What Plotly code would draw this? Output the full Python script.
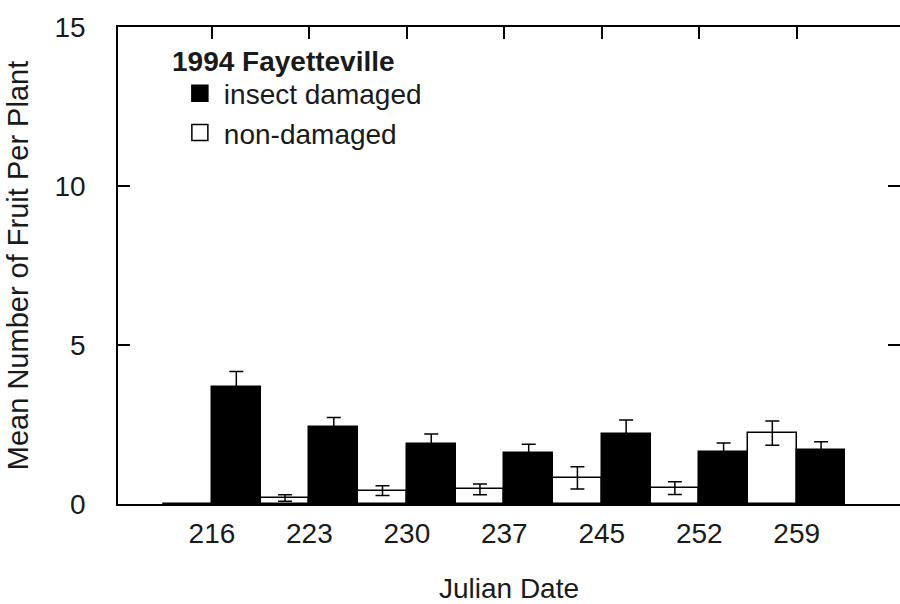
import plotly.graph_objects as go

dates = ["216", "223", "230", "237", "245", "252", "259"]
insect = [3.67, 2.43, 1.89, 1.60, 2.20, 1.64, 1.70]
insect_se = [0.50, 0.29, 0.31, 0.28, 0.44, 0.28, 0.26]
nondam = [0.0, 0.19, 0.42, 0.46, 0.82, 0.50, 2.23]
nondam_se = [0.0, 0.10, 0.15, 0.17, 0.35, 0.20, 0.38]

FONT = "Liberation Sans"
FS = 28
INK = "#1a1a1a"

fig = go.Figure()
fig.add_trace(go.Bar(
    x=dates, y=nondam, name="non-damaged", showlegend=False,
    marker=dict(color="white", line=dict(color="black", width=1.5)),
    error_y=dict(type="data", array=nondam_se, color="black", thickness=1.5, width=7),
))
fig.add_trace(go.Bar(
    x=dates, y=insect, name="insect damaged", showlegend=False,
    marker=dict(color="black", line=dict(color="black", width=1.5)),
    error_y=dict(type="data", array=insect_se, color="black", thickness=1.5, width=7),
))
# legend entries (square swatches)
fig.add_trace(go.Scatter(
    x=[None], y=[None], mode="markers", name="insect damaged",
    marker=dict(symbol="square", size=18, color="black", line=dict(color="black", width=1.5)),
))
fig.add_trace(go.Scatter(
    x=[None], y=[None], mode="markers", name="non-damaged",
    marker=dict(symbol="square", size=17, color="white", line=dict(color="black", width=1.5)),
))

fig.update_layout(
    width=900, height=604, autosize=False,
    margin=dict(l=118, r=0, t=27, b=100, autoexpand=False),
    plot_bgcolor="white", paper_bgcolor="white",
    barmode="group", bargap=0, bargroupgap=0,
    font=dict(family=FONT, size=FS, color=INK),
    legend=dict(
        x=0.074, y=0.913, xanchor="left", yanchor="top",
        bgcolor="rgba(0,0,0,0)", font=dict(size=FS, family=FONT, color=INK),
        itemsizing="trace", tracegroupgap=0, itemwidth=38,
    ),
    showlegend=True,
    annotations=[dict(
        text="<b>1994 Fayetteville</b>", xref="paper", yref="paper",
        x=0.0665, y=0.927, xanchor="left", yanchor="middle", showarrow=False,
        font=dict(size=FS, family=FONT, color=INK),
    )],
)
fig.update_xaxes(
    type="category", range=[-0.964, 7.06], automargin=False,
    showline=True, linecolor="black", linewidth=1.5, mirror="ticks",
    ticks="inside", ticklen=12, tickcolor="black", tickwidth=1.5,
    ticklabelstandoff=4,
    title=dict(text="Julian Date", standoff=30, font=dict(size=28)),
    showgrid=False, zeroline=False,
)
fig.update_yaxes(
    range=[0, 15], tickvals=[0, 5, 10, 15], automargin=False,
    showline=True, linecolor="black", linewidth=1.5, mirror="ticks",
    ticks="inside", ticklen=12, tickcolor="black", tickwidth=1.5,
    ticklabelstandoff=25,
    title=dict(text="Mean Number of Fruit Per Plant", standoff=17, font=dict(size=29)),
    showgrid=False, zeroline=False,
)
fig.write_html("out.html", config={"responsive": False, "displayModeBar": False})

# remove default page margin so the figure sits at the window's top-left corner
with open("out.html", "r", encoding="utf-8") as f:
    html = f.read()
html = html.replace("<head>", "<head><style>html,body{margin:0;padding:0;overflow:hidden;}</style>", 1)
with open("out.html", "w", encoding="utf-8") as f:
    f.write(html)
